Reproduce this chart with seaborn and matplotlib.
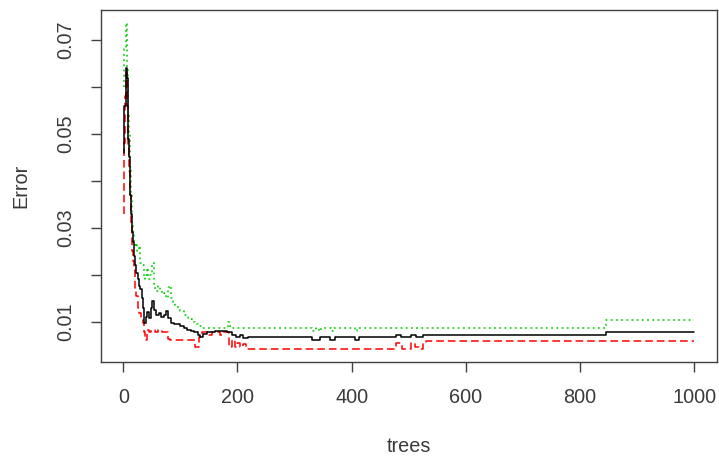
import numpy as np
import pandas as pd
import matplotlib
matplotlib.use("Agg")
import matplotlib.pyplot as plt
import seaborn as sns

# OOB error (black, solid)
oob_trees = [1, 2, 4, 6, 8, 9, 10, 11, 12, 13, 14, 15, 16, 17, 18, 19, 20, 21, 23, 25, 27, 30, 32, 34, 36,
             39, 42, 45, 48, 51, 54, 57, 62, 66, 71, 75, 79, 83, 88, 95, 100, 106, 112, 118, 123, 130, 135,
             140, 147, 160, 182, 190, 197, 205, 210, 218, 330, 345, 362, 370, 405, 412, 478, 487, 503, 512,
             524, 530, 845, 1000]
oob_err = [0.046, 0.056, 0.064, 0.062, 0.055, 0.049, 0.045, 0.041, 0.037, 0.035, 0.033, 0.031, 0.029, 0.027,
           0.026, 0.024, 0.023, 0.022, 0.0204, 0.019, 0.0175, 0.0170, 0.0150, 0.0130, 0.0098,
           0.0110, 0.0120, 0.0108, 0.0130, 0.0145, 0.0125, 0.0114, 0.0118, 0.0110, 0.0115, 0.0122, 0.0108,
           0.0098, 0.0094, 0.0096, 0.0090, 0.0086, 0.0083, 0.0080, 0.0077, 0.0072, 0.0068,
           0.0074, 0.0079, 0.0081, 0.0077, 0.0072, 0.0068, 0.0072, 0.0066, 0.0067, 0.0061, 0.0067, 0.0061,
           0.0067, 0.0061, 0.0067, 0.0071, 0.0067, 0.0071, 0.0067, 0.0071, 0.0071, 0.0079, 0.0079]

# class 1 error (red, dashed)
c1_trees = [1, 2, 3, 5, 6, 8, 10, 12, 13, 14, 15, 16, 17, 18, 20, 21, 23, 25, 28, 31, 35, 37, 38, 41, 45,
            48, 55, 60, 68, 72, 78, 82, 126, 133, 137, 150, 155, 170, 175, 186, 190, 195, 200, 205, 210,
            215, 478, 488, 503, 510, 517, 524, 530, 1000]
c1_err = [0.033, 0.048, 0.058, 0.063, 0.056, 0.047, 0.042, 0.037, 0.034, 0.031, 0.027, 0.025, 0.023,
          0.021, 0.019, 0.0168, 0.0155, 0.0130, 0.0118, 0.0105, 0.0098, 0.0077, 0.0060, 0.0083, 0.0077,
          0.0083, 0.0079, 0.0083, 0.0077, 0.0079, 0.0064, 0.0060, 0.0047, 0.0068, 0.0077, 0.0072, 0.0077,
          0.0072, 0.0077, 0.0047, 0.0062, 0.0047, 0.0055, 0.0047, 0.0052, 0.0042, 0.0055, 0.0042, 0.0055,
          0.0047, 0.0042, 0.0055, 0.0058, 0.0058]

# class 2 error (green, dotted)
c2_trees = [1, 2, 4, 6, 7, 8, 9, 10, 11, 12, 13, 14, 15, 16, 17, 18, 20, 22, 24, 27, 30, 33, 36, 38, 41,
            44, 47, 50, 53, 56, 60, 64, 68, 71, 75, 78, 80, 83, 87, 91, 95, 100, 106, 110, 114, 120, 126,
            131, 136, 184, 187, 330, 337, 343, 347, 363, 368, 405, 410, 845, 1000]
c2_err = [0.060, 0.068, 0.0736, 0.068, 0.064, 0.059, 0.054, 0.050, 0.046, 0.043, 0.040, 0.037, 0.0335,
          0.031, 0.029, 0.027, 0.026, 0.0268, 0.0250, 0.0262, 0.0225, 0.0220, 0.019, 0.0200, 0.0215, 0.0190,
          0.0200, 0.0225, 0.018, 0.0165, 0.0176, 0.0168, 0.0158, 0.0162, 0.0150, 0.0170, 0.0175, 0.0150,
          0.0140, 0.0133, 0.0130, 0.0122, 0.0114, 0.0110, 0.0106, 0.0100, 0.0094, 0.0090, 0.0087, 0.0100,
          0.0087, 0.0080, 0.0087, 0.0081, 0.0087, 0.0080, 0.0087, 0.0080, 0.0087, 0.0103, 0.0103]

x_ticks = [0, 200, 400, 600, 800, 1000]
y_ticks = [0.01, 0.02, 0.03, 0.04, 0.05, 0.06, 0.07]
y_labels = ["0.01", "", "0.03", "", "0.05", "", "0.07"]

df = pd.concat([
    pd.DataFrame({"trees": oob_trees, "Error": oob_err, "series": "OOB"}),
    pd.DataFrame({"trees": c1_trees, "Error": c1_err, "series": "1"}),
    pd.DataFrame({"trees": c2_trees, "Error": c2_err, "series": "2"}),
], ignore_index=True)

sns.set_style("white")
plt.rcParams["font.family"] = ["Liberation Sans", "DejaVu Sans"]
text_col = "#3a3a3a"

fig = plt.figure(figsize=(7.19, 4.57), dpi=100)
ax = fig.add_axes([0.1405, 0.208, 0.857, 0.770])

sns.lineplot(data=df, x="trees", y="Error", hue="series", style="series",
             palette={"OOB": "black", "1": "#FF0000", "2": "#00CD00"},
             dashes={"OOB": "", "1": (5, 2.6), "2": (1.2, 2.2)},
             hue_order=["2", "1", "OOB"], style_order=["2", "1", "OOB"],
             estimator=None, sort=True, drawstyle="steps-post", linewidth=1.1,
             legend=False, ax=ax)

lo, hi = df["Error"].min(), df["Error"].max()
pad = 0.04 * (hi - lo)
ax.set_ylim(lo - pad, hi + pad)
ax.set_xlim(1 - 0.04 * 999, 1000 + 0.04 * 999)

ax.set_xticks(x_ticks)
ax.set_xticklabels([str(v) for v in x_ticks])
ax.set_yticks(y_ticks)
ax.set_yticklabels(y_labels, rotation=90, va="center")

ax.tick_params(axis="both", direction="out", length=7.5, width=1, color="#404040",
               labelsize=14.3, labelcolor=text_col, pad=11, bottom=True, left=True)
for s in ax.spines.values():
    s.set_color("#404040")
    s.set_linewidth(1)

ax.set_xlabel("trees", fontsize=14.3, color=text_col, labelpad=22)
ax.set_ylabel("Error", fontsize=14.3, color=text_col, labelpad=19)

fig.savefig("out.png", dpi=100, facecolor="white")
